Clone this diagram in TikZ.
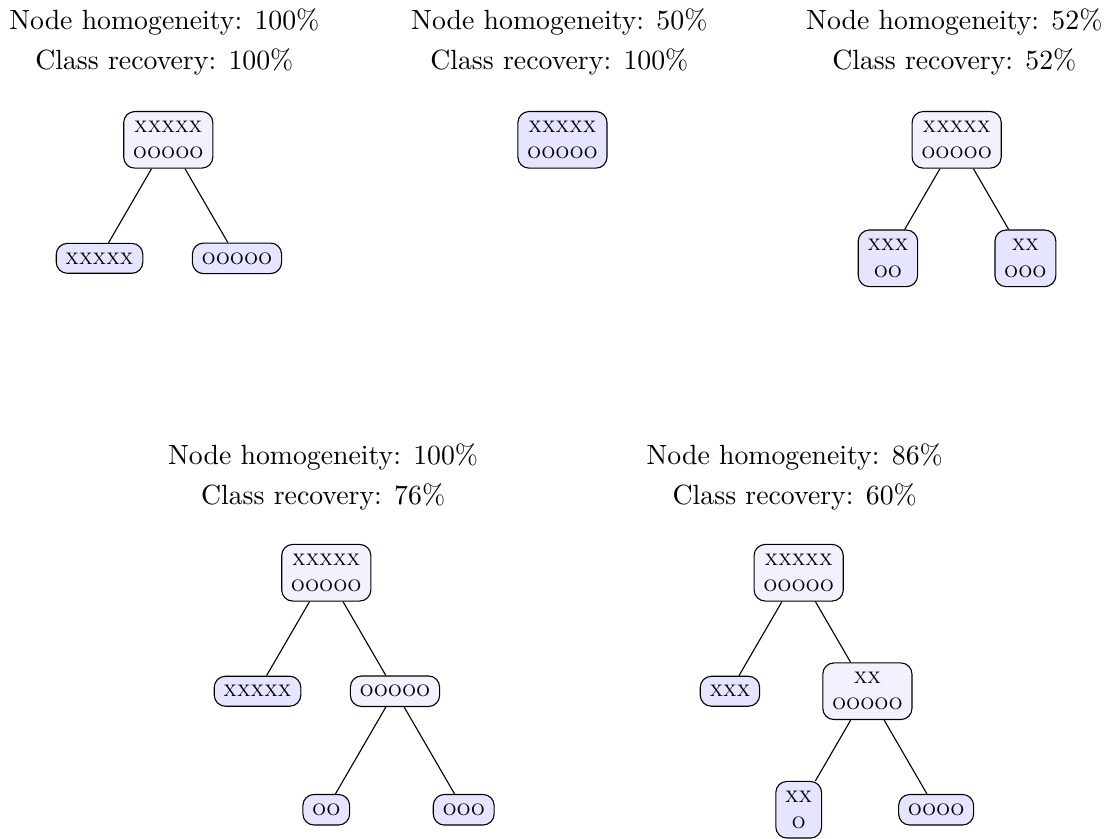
\documentclass[tikz,border=0pt]{standalone}
\usepackage{amsmath, amssymb, xcolor, tikz}
\usetikzlibrary{positioning, calc}

\tikzset{
	inner/.style={shape=rectangle,rounded corners=4pt,draw=black,fill=blue!5,align=center,font=\footnotesize\scshape},
	leaf/.style={inner,fill=blue!10},
	score/.style={align=center}
}

\begin{document}
\begin{tikzpicture}
	\useasboundingbox (0,0) rectangle (13.975,-10.608);

	% top row
	\node[score] (s1) at (2.08, -0.53) {Node homogeneity: 100\%\\[2.5pt]Class recovery: 100\%};
	\node[inner] (a1) at (2.13, -1.77) {xxxxx\\ooooo};
	\node[leaf] (a2) at (1.26, -3.27) {xxxxx};
	\node[leaf] (a3) at (3.00, -3.27) {ooooo};

	\node[score] (s2) at (7.08, -0.53) {Node homogeneity: 50\%\\[2.5pt]Class recovery: 100\%};
	\node[leaf] (b1) at (7.12, -1.77) {xxxxx\\ooooo};

	\node[score] (s3) at (12.08, -0.53) {Node homogeneity: 52\%\\[2.5pt]Class recovery: 52\%};
	\node[inner] (c1) at (12.11, -1.77) {xxxxx\\ooooo};
	\node[leaf] (c2) at (11.24, -3.27) {xxx\\oo};
	\node[leaf] (c3) at (12.98, -3.27) {xx\\ooo};

	\path [-] (a1) edge (a2);
	\path [-] (a1) edge (a3);
	\path [-] (c1) edge (c2);
	\path [-] (c1) edge (c3);

	% bottom row
	\node[score] (s4) at (4.09, -6.04) {Node homogeneity: 100\%\\[2.5pt]Class recovery: 76\%};
	\node[inner] (d1) at (4.13, -7.25) {xxxxx\\ooooo};
	\node[leaf] (d2) at (3.26, -8.75) {xxxxx};
	\node[inner] (d3) at (5.00, -8.75) {ooooo};
	\node[leaf] (d4) at (4.13, -10.25) {oo};
	\node[leaf] (d5) at (5.87, -10.25) {ooo};

	\node[score] (s5) at (10.06, -6.04) {Node homogeneity: 86\%\\[2.5pt]Class recovery: 60\%};
	\node[inner] (e1) at (10.11, -7.25) {xxxxx\\ooooo};
	\node[leaf] (e2) at (9.24, -8.75) {xxx};
	\node[inner] (e3) at (10.98, -8.75) {xx\\ooooo};
	\node[leaf] (e4) at (10.11, -10.25) {xx\\o};
	\node[leaf] (e5) at (11.85, -10.25) {oooo};

	\path [-] (d1) edge (d2);
	\path [-] (d1) edge (d3);
	\path [-] (d3) edge (d4);
	\path [-] (d3) edge (d5);
	\path [-] (e1) edge (e2);
	\path [-] (e1) edge (e3);
	\path [-] (e3) edge (e4);
	\path [-] (e3) edge (e5);
\end{tikzpicture}
\end{document}
